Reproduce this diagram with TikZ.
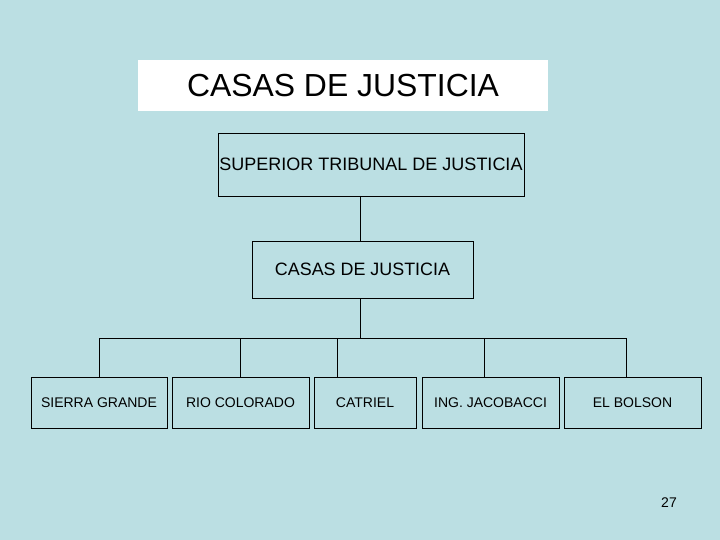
\documentclass[tikz,border=0pt]{standalone}
\usepackage{fontspec}
\setmainfont{Liberation Sans}
\definecolor{bg}{RGB}{187,223,227}
\begin{document}
\begin{tikzpicture}[x=1pt,y=-1pt,
  box/.style={draw=black,line width=0.9pt,inner sep=0pt,outer sep=0pt},
  conn/.style={draw=black,line width=0.9pt},
  small/.style={font=\fontsize{14}{16}\selectfont}]
\fill[bg] (0,0) rectangle (720,540);
\useasboundingbox (0,0) rectangle (720,540);
\node[fill=white,inner sep=0pt,minimum width=410pt,minimum height=51pt] (title) at (343,85.5) {\fontsize{31.9}{34}\selectfont CASAS DE JUSTICIA};
\node[box,minimum width=306pt,minimum height=63pt] (stj) at (371,164.5) {\fontsize{18}{20}\selectfont SUPERIOR TRIBUNAL DE JUSTICIA};
\node[box,minimum width=221pt,minimum height=57pt] (cj) at (362.5,269.5) {\fontsize{17.9}{20}\selectfont CASAS DE JUSTICIA};
\node[box,small,minimum width=136pt,minimum height=51pt] (sg) at (99,402.5) {SIERRA GRANDE};
\node[box,small,minimum width=137pt,minimum height=51pt] (rc) at (240.5,402.5) {RIO COLORADO};
\node[box,small,minimum width=102pt,minimum height=51pt] (ca) at (365,402.5) {CATRIEL};
\node[box,small,minimum width=137pt,minimum height=51pt] (ij) at (490.5,402.5) {ING. JACOBACCI};
\node[box,small,minimum width=137pt,minimum height=51pt] (eb) at (632.5,402.5) {EL BOLSON};
\node[small] (num) at (669,503) {27};
\coordinate (j) at (360,338);
\draw[conn] (stj.south -| j) -- (cj.north -| j);
\draw[conn] (cj.south -| j) -- (j);
\draw[conn] (99,338) -- (626,338);
\draw[conn] (99,338) -- (sg.north -| 99,0);
\draw[conn] (240,338) -- (rc.north -| 240,0);
\draw[conn] (337,338) -- (ca.north -| 337,0);
\draw[conn] (484,338) -- (ij.north -| 484,0);
\draw[conn] (626,338) -- (eb.north -| 626,0);
\end{tikzpicture}
\end{document}
